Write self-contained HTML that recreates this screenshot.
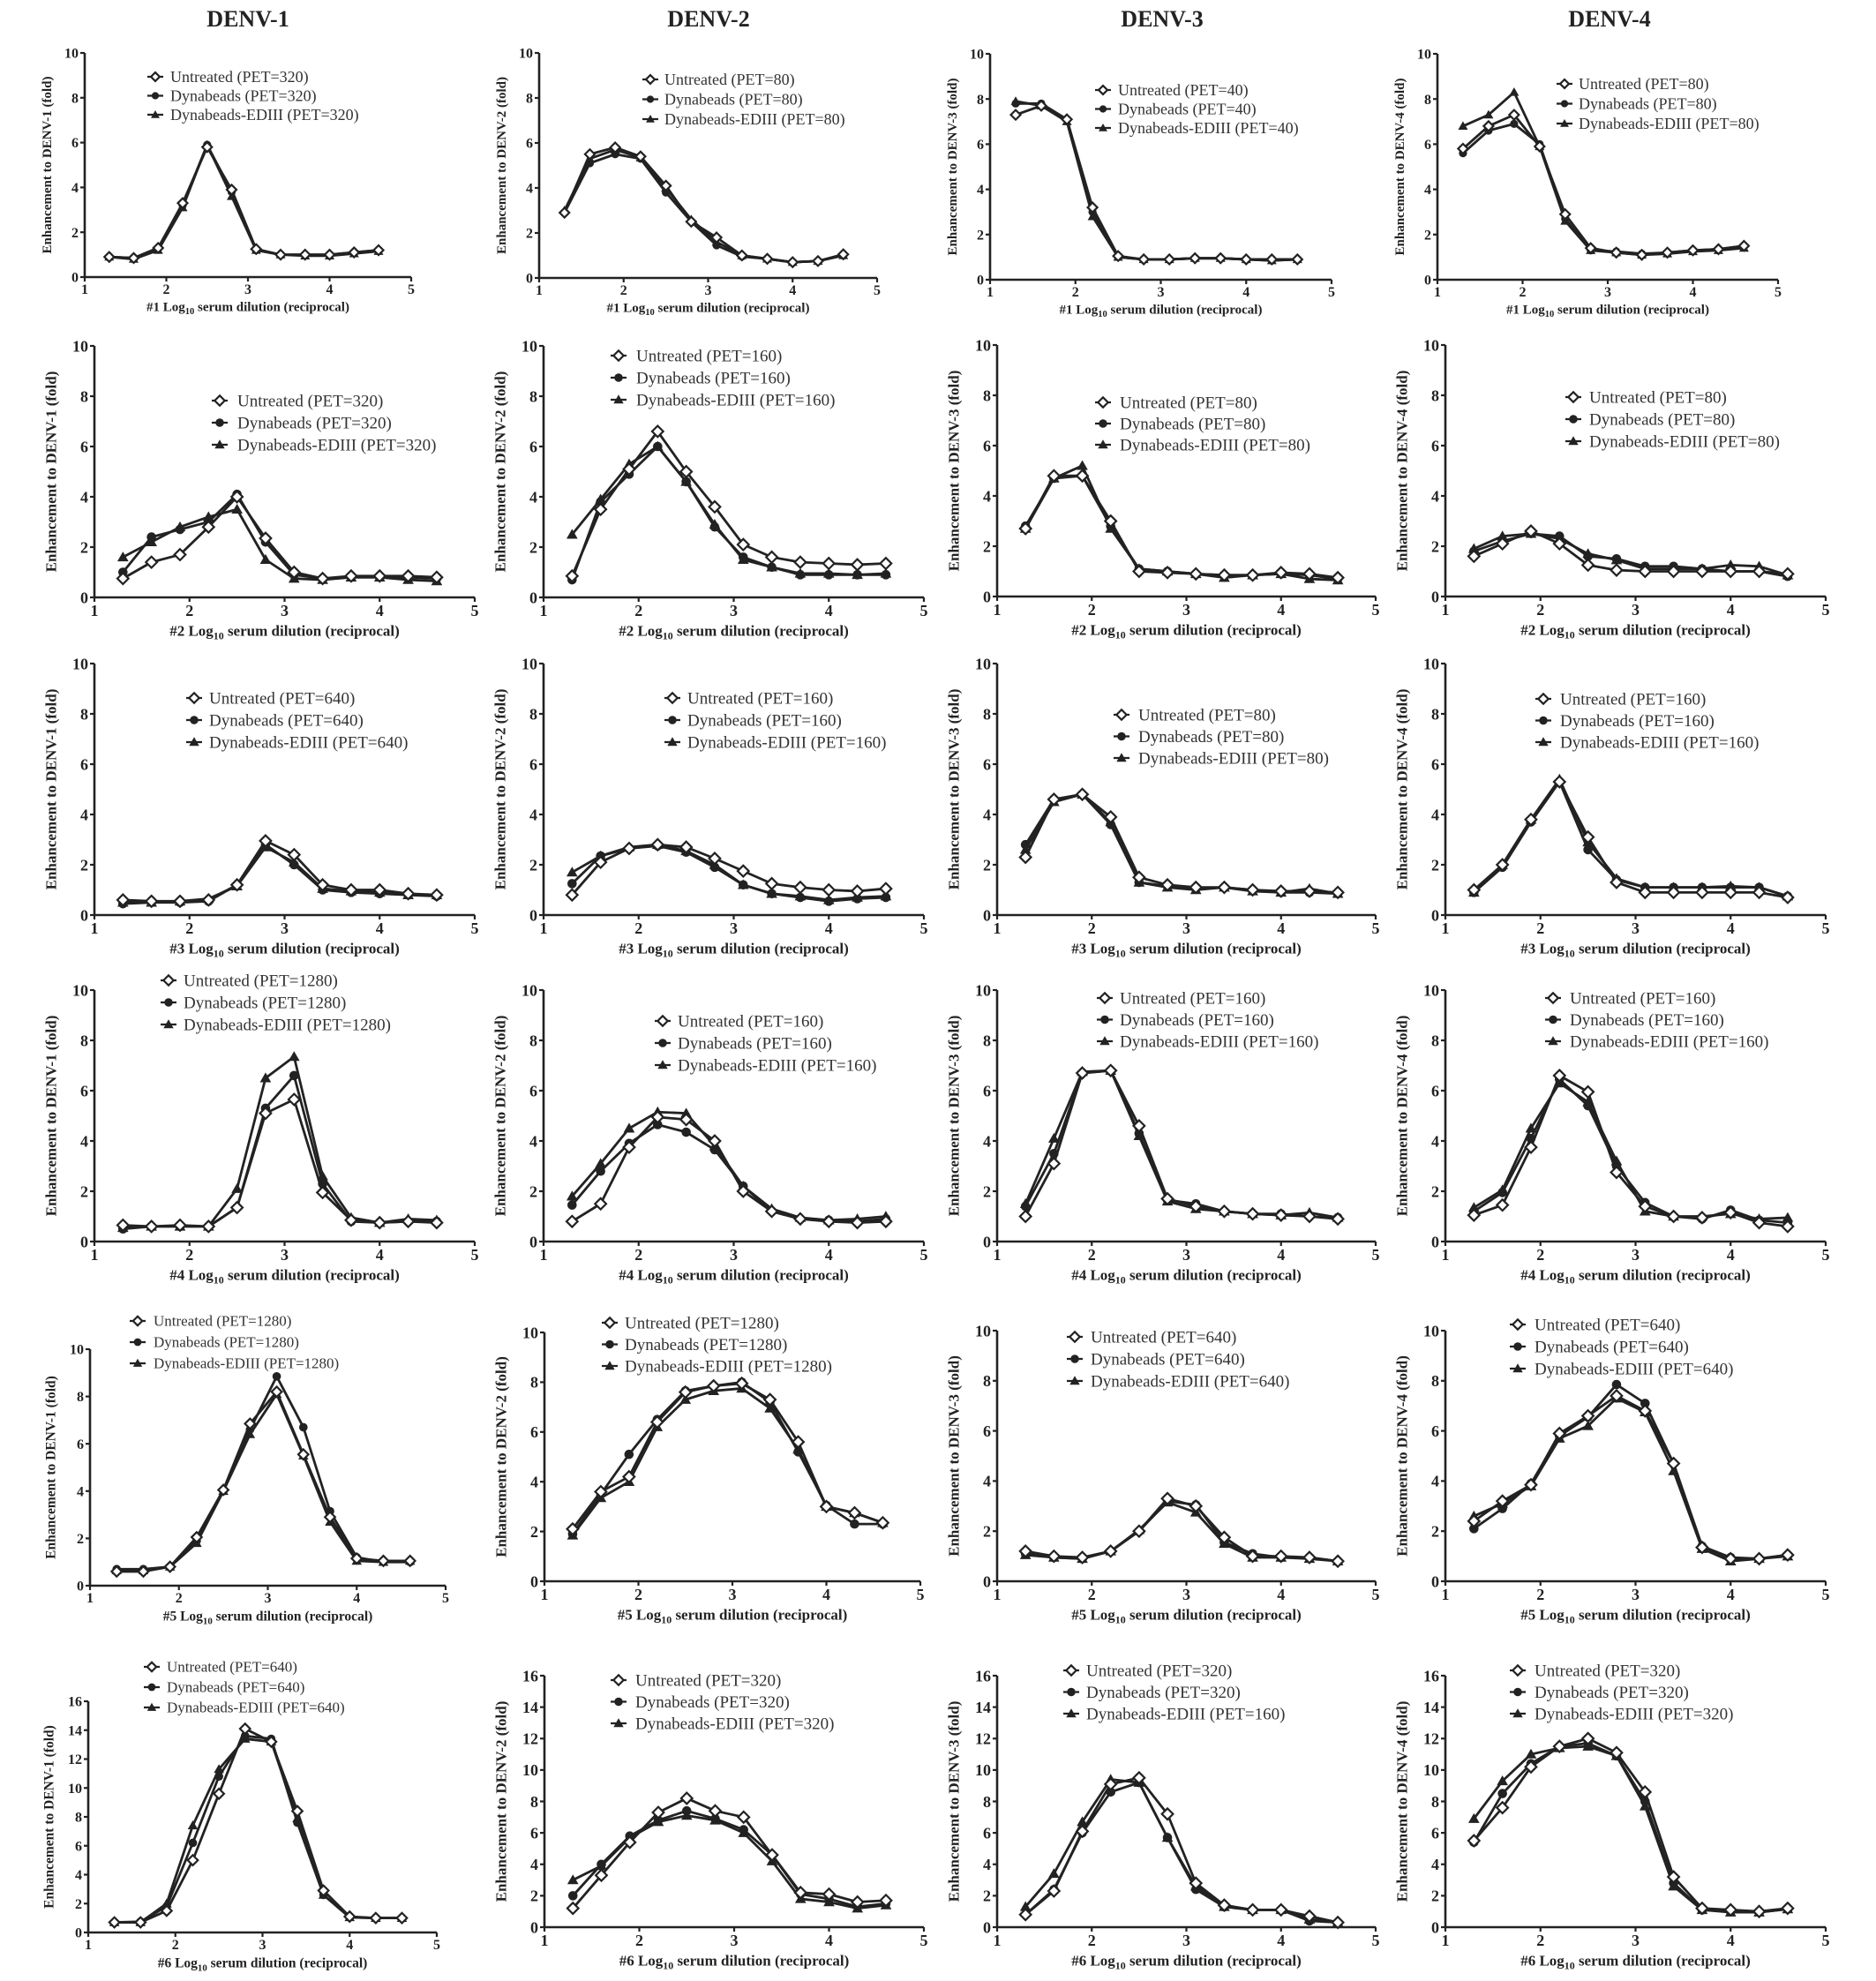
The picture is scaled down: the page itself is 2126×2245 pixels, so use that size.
<!DOCTYPE html>
<html><head><meta charset="utf-8"><style>
html,body{margin:0;padding:0;background:#fff;}
svg{display:block;font-family:"Liberation Serif",serif;}
</style></head><body>
<svg id="fig" xmlns="http://www.w3.org/2000/svg" width="2126" height="2245" viewBox="0 0 2126 2245">
<rect width="2126" height="2245" fill="#fff"/>
<g font-weight="bold" font-size="26" text-anchor="middle" fill="#222">
<text x="281" y="30">DENV-1</text>
<text x="803" y="30">DENV-2</text>
<text x="1317" y="30">DENV-3</text>
<text x="1824" y="30">DENV-4</text>
</g>
</svg>
<script>
const dilutions=[1.3,1.6,1.9,2.2,2.5,2.8,3.1,3.4,3.7,4.0,4.3,4.6];
const xTicks=[1,2,3,4,5];
const seriesNames=["Untreated","Dynabeads","Dynabeads-EDIII"];
const pet=[
 [[320,320,320],[80,80,80],[40,40,40],[80,80,80]],
 [[320,320,320],[160,160,160],[80,80,80],[80,80,80]],
 [[640,640,640],[160,160,160],[80,80,80],[160,160,160]],
 [[1280,1280,1280],[160,160,160],[160,160,160],[160,160,160]],
 [[1280,1280,1280],[1280,1280,1280],[640,640,640],[640,640,640]],
 [[640,640,640],[320,320,320],[320,320,160],[320,320,320]]
];
const yMaxByRow=[10,10,10,10,10,16];
const r1c1U=[.9,.85,1.3,3.3,5.8,3.9,1.25,1,1,1,1.1,1.2];
const r1c1D=[.9,.85,1.3,3.2,5.9,3.8,1.2,1,1,1,1.1,1.2];
const r1c1E=[.9,.8,1.2,3.1,5.9,3.6,1.2,1,.95,.95,1.05,1.15];
const r1c2U=[2.9,5.5,5.8,5.4,4.1,2.5,1.8,1.0,.85,.7,.75,1.05];
const r1c2D=[2.9,5.1,5.5,5.3,3.8,2.5,1.45,.95,.85,.7,.75,1.0];
const r1c2E=[3.0,5.3,5.7,5.35,4.0,2.6,1.6,1,.85,.7,.75,1.0];
const r1c3U=[7.3,7.7,7.1,3.2,1.05,.9,.9,.95,.95,.9,.9,.9];
const r1c3D=[7.8,7.8,7.1,3.0,1.0,.9,.9,.95,.95,.9,.85,.9];
const r1c3E=[7.9,7.7,7.0,2.8,1.0,.9,.9,.95,.95,.9,.85,.9];
const r1c4U=[5.8,6.8,7.3,5.9,2.9,1.4,1.2,1.1,1.2,1.3,1.35,1.5];
const r1c4D=[5.6,6.6,6.9,6.0,2.7,1.3,1.25,1.15,1.2,1.3,1.35,1.5];
const r1c4E=[6.8,7.3,8.3,5.9,2.6,1.3,1.2,1.1,1.15,1.25,1.3,1.4];
const r2c1U=[.75,1.4,1.7,2.8,4.0,2.35,1.0,.75,.85,.85,.85,.8];
const r2c1D=[1.0,2.4,2.7,3.0,4.1,2.2,.9,.75,.8,.8,.8,.75];
const r2c1E=[1.6,2.2,2.8,3.2,3.5,1.5,.75,.7,.8,.8,.7,.65];
const r2c2U=[.85,3.5,5.1,6.6,5.0,3.6,2.1,1.6,1.4,1.35,1.3,1.35];
const r2c2D=[.7,3.8,4.9,6.0,4.6,2.8,1.6,1.2,.9,.9,.9,.9];
const r2c2E=[2.5,3.9,5.3,6.0,4.6,2.9,1.5,1.2,.95,.95,.9,.95];
const r2c3U=[2.7,4.8,4.8,3.0,1.0,.95,.9,.85,.85,.95,.9,.75];
const r2c3D=[2.8,4.7,4.8,2.8,1.1,1.0,.9,.85,.85,.9,.85,.7];
const r2c3E=[2.7,4.7,5.2,2.7,1.1,1.0,.9,.75,.85,.9,.7,.65];
const r2c4U=[1.6,2.1,2.6,2.1,1.25,1.05,1.0,1.0,1.0,1.0,1.0,.9];
const r2c4D=[1.8,2.2,2.5,2.4,1.6,1.5,1.2,1.2,1.1,1.0,1.0,.8];
const r2c4E=[1.9,2.4,2.5,2.3,1.7,1.45,1.1,1.1,1.1,1.25,1.2,.85];
const r3c1U=[.6,.55,.55,.6,1.2,2.95,2.4,1.2,1.0,1.0,.85,.8];
const r3c1D=[.45,.5,.5,.55,1.2,2.8,2.0,1.0,.9,.85,.8,.75];
const r3c1E=[.5,.5,.55,.65,1.15,2.7,2.1,1.05,.95,.9,.8,.8];
const r3c2U=[.8,2.1,2.65,2.8,2.7,2.25,1.75,1.25,1.1,1.0,.95,1.05];
const r3c2D=[1.25,2.35,2.65,2.75,2.5,1.9,1.2,.85,.7,.55,.65,.7];
const r3c2E=[1.7,2.35,2.7,2.8,2.55,2.0,1.2,.85,.75,.6,.7,.75];
const r3c3U=[2.3,4.6,4.8,3.9,1.5,1.2,1.1,1.1,1.0,.95,.95,.9];
const r3c3D=[2.8,4.6,4.8,3.6,1.3,1.15,1.05,1.1,1.0,.9,.9,.85];
const r3c3E=[2.6,4.5,4.8,3.7,1.3,1.1,1.0,1.1,.95,.9,1.05,.85];
const r3c4U=[1.0,2.0,3.8,5.3,3.1,1.3,.9,.9,.9,.9,.9,.7];
const r3c4D=[.9,1.9,3.7,5.3,2.6,1.4,1.1,1.1,1.1,1.1,1.1,.75];
const r3c4E=[.9,2.0,3.8,5.4,2.9,1.45,1.1,1.1,1.1,1.15,1.1,.75];
const r4c1U=[.65,.6,.65,.6,1.35,5.1,5.65,1.95,.85,.75,.8,.75];
const r4c1D=[.5,.6,.6,.6,1.35,5.3,6.6,2.3,.8,.75,.8,.8];
const r4c1E=[.55,.6,.6,.6,2.1,6.5,7.35,2.6,.95,.75,.9,.85];
const r4c2U=[.8,1.5,3.75,4.95,4.85,4.0,2.0,1.2,.9,.8,.75,.8];
const r4c2D=[1.45,2.8,3.9,4.65,4.35,3.65,2.2,1.2,.9,.85,.8,.9];
const r4c2E=[1.8,3.1,4.5,5.15,5.1,3.8,2.2,1.3,.95,.85,.9,1.0];
const r4c3U=[1.0,3.1,6.7,6.8,4.6,1.7,1.4,1.2,1.1,1.05,1.0,.9];
const r4c3D=[1.4,3.5,6.7,6.8,4.3,1.65,1.5,1.2,1.1,1.1,1.0,.95];
const r4c3E=[1.5,4.1,6.75,6.8,4.2,1.6,1.3,1.2,1.1,1.05,1.15,.95];
const r4c4U=[1.05,1.45,3.75,6.6,5.95,2.75,1.4,1.0,.95,1.15,.75,.6];
const r4c4D=[1.2,1.95,4.1,6.45,5.4,3.0,1.55,1.0,.9,1.25,.85,.75];
const r4c4E=[1.35,2.05,4.5,6.3,5.55,3.2,1.2,1.0,1.0,1.1,.9,.95];
const r5c1U=[.6,.6,.8,2.05,4.05,6.85,8.2,5.55,2.9,1.15,1.05,1.05];
const r5c1D=[.7,.7,.8,1.9,4.0,6.6,8.85,6.7,3.15,1.2,1.0,1.0];
const r5c1E=[.65,.65,.8,1.8,4.0,6.4,8.1,5.5,2.7,1.05,1.0,1.05];
const r5c2U=[2.1,3.6,4.2,6.4,7.6,7.85,7.95,7.3,5.6,3.0,2.75,2.35];
const r5c2D=[1.9,3.5,5.1,6.5,7.65,7.85,8.0,7.2,5.2,3.05,2.3,2.3];
const r5c2E=[1.85,3.35,4.0,6.2,7.3,7.65,7.75,6.95,5.3,3.0,2.75,2.35];
const r5c3U=[1.2,1.0,.95,1.2,2.0,3.3,3.0,1.75,1.0,1.0,.95,.8];
const r5c3D=[1.1,.95,.9,1.2,2.0,3.2,3.05,1.55,1.1,.95,.95,.8];
const r5c3E=[1.05,.95,.9,1.2,2.05,3.15,2.75,1.5,.95,.95,.9,.8];
const r5c4U=[2.4,3.2,3.85,5.9,6.6,7.4,6.8,4.7,1.35,.9,.9,1.05];
const r5c4D=[2.1,2.9,3.9,5.8,6.55,7.85,7.1,4.7,1.4,.95,.9,1.05];
const r5c4E=[2.6,3.1,3.8,5.7,6.2,7.3,6.75,4.4,1.3,.8,.9,1.0];
const r6c1U=[.7,.7,1.5,5.0,9.6,14.1,13.2,8.4,2.9,1.1,1.0,1.0];
const r6c1D=[.7,.75,1.8,6.2,10.8,13.6,13.4,7.6,2.6,1.05,1.0,1.0];
const r6c1E=[.7,.7,2.0,7.4,11.3,13.4,13.2,7.9,2.6,1.05,1.0,1.0];
const r6c2U=[1.2,3.3,5.4,7.3,8.2,7.4,7.0,4.6,2.2,2.1,1.6,1.7];
const r6c2D=[2.0,4.0,5.8,6.8,7.4,6.9,6.2,4.6,2.1,1.8,1.3,1.5];
const r6c2E=[3.0,3.9,5.7,6.7,7.1,6.8,6.0,4.2,1.8,1.6,1.2,1.4];
const r6c3U=[.8,2.3,6.1,9.1,9.5,7.2,2.8,1.4,1.1,1.1,.7,.3];
const r6c3D=[.8,2.4,6.0,8.6,9.2,5.7,2.4,1.3,1.1,1.1,.4,.3];
const r6c3E=[1.3,3.4,6.7,9.4,9.2,5.7,2.6,1.3,1.1,1.1,.5,.3];
const r6c4U=[5.5,7.6,10.2,11.5,12.0,11.1,8.6,3.2,1.2,1.1,1.0,1.2];
const r6c4D=[5.4,8.5,10.4,11.5,11.7,10.9,8.0,2.8,1.1,1.0,.95,1.15];
const r6c4E=[6.9,9.3,11.0,11.4,11.5,10.9,7.7,2.6,1.1,.95,.95,1.15];

const data=[
 [[r1c1U,r1c1D,r1c1E],[r1c2U,r1c2D,r1c2E],[r1c3U,r1c3D,r1c3E],[r1c4U,r1c4D,r1c4E]],
 [[r2c1U,r2c1D,r2c1E],[r2c2U,r2c2D,r2c2E],[r2c3U,r2c3D,r2c3E],[r2c4U,r2c4D,r2c4E]],
 [[r3c1U,r3c1D,r3c1E],[r3c2U,r3c2D,r3c2E],[r3c3U,r3c3D,r3c3E],[r3c4U,r3c4D,r3c4E]],
 [[r4c1U,r4c1D,r4c1E],[r4c2U,r4c2D,r4c2E],[r4c3U,r4c3D,r4c3E],[r4c4U,r4c4D,r4c4E]],
 [[r5c1U,r5c1D,r5c1E],[r5c2U,r5c2D,r5c2E],[r5c3U,r5c3D,r5c3E],[r5c4U,r5c4D,r5c4E]],
 [[r6c1U,r6c1D,r6c1E],[r6c2U,r6c2D,r6c2E],[r6c3U,r6c3D,r6c3E],[r6c4U,r6c4D,r6c4E]]
];

const layout=[
 [[96,466,60,314,176,193,87,21.5,0],[611,994,60,315,737,753,90,22.5,0],[1122,1509,61,317,1250,1267,102,21.5,0],[1629,2015,61,317,1773,1789,95,22.5,0]],
 [[107,538,392,677,249,269,454,25,2],[616,1047,392,677,701,721,403,25,2],[1130,1559,391,676,1250,1269,456,24,2],[1638,2069,391,676,1783,1801,450,25,2]],
 [[107,538,752,1037,220,237,791,25,2],[616,1047,752,1037,762,779,791,25,2],[1130,1559,752,1037,1271,1290,810,24.5,2],[1638,2069,752,1037,1749,1768,792,24.5,2]],
 [[107,538,1122,1407,191,208,1111,25,2],[616,1047,1122,1407,751,768,1157,25,2],[1130,1559,1122,1407,1252,1269,1131,24.5,2],[1638,2069,1122,1407,1760,1779,1131,24.5,2]],
 [[102,505,1529,1797,156,174,1497,24,1],[617,1043,1510,1792,691,708,1499,24.5,2],[1130,1559,1508,1792,1218,1236,1515,25,2],[1638,2069,1508,1792,1720,1739,1501,25,2]],
 [[100,495,1928,2190,172,189,1889,23,1],[617,1047,1899,2184,701,720,1904,24.5,2],[1130,1559,1899,2184,1214,1231,1893,24.5,2],[1638,2069,1899,2184,1720,1739,1893,24.5,2]]
];
const sizes=[{tick:16,lab:15,leg:18,m:1},{tick:16,lab:15.5,leg:17,m:1.05},{tick:18,lab:17,leg:19,m:1.15}];

const NS="http://www.w3.org/2000/svg";
const svg=document.getElementById('fig');
function mk(tag,attrs,parent){const e=document.createElementNS(NS,tag);for(const k in attrs)e.setAttribute(k,attrs[k]);(parent||svg).appendChild(e);return e;}
function marker(g,type,x,y,m){
 let e;
 if(type===0){const s=5.5*m;e=mk('polygon',{points:`${x},${y-s} ${x+s},${y} ${x},${y+s} ${x-s},${y}`,fill:'#fff',stroke:'#222','stroke-width':2.2},g);}
 else if(type===1){e=mk('circle',{cx:x,cy:y,r:4.6*m,fill:'#222'},g);}
 else {const s=5.5*m;e=mk('polygon',{points:`${x},${y-s} ${x+s},${y+s*0.75} ${x-s},${y+s*0.75}`,fill:'#222'},g);}
 return e;
}
for(let r=0;r<6;r++){for(let c=0;c<4;c++){
 const L=layout[r][c],S=sizes[L[8]],ymax=yMaxByRow[r];
 const [xl,xr,yt,yb]=L;
 const xs=v=>xl+(v-1)/(4)*(xr-xl);
 const ys=v=>yb-v/ymax*(yb-yt);
 const g=mk('g',{});
 
 
 const ax=mk('path',{d:`M${xl},${yt}V${yb}H${xr}`,fill:'none',stroke:'#222','stroke-width':2.6},g);
 
 
 for(let v=0;v<=ymax;v+=2){
  const y=ys(v);
  mk('line',{x1:xl-5,y1:y,x2:xl,y2:y,stroke:'#222','stroke-width':2.2},g);
  const t=mk('text',{x:xl-7,y:y+S.tick*0.35,'font-size':S.tick,'font-weight':'bold','text-anchor':'end',fill:'#222'},g);
  t.textContent=v;
  
  
 }
 xTicks.forEach(v=>{
  const x=xs(v);
  mk('line',{x1:x,y1:yb,x2:x,y2:yb+5,stroke:'#222','stroke-width':2.2},g);
  const t=mk('text',{x:x,y:yb+S.tick+3,'font-size':S.tick,'font-weight':'bold','text-anchor':'middle',fill:'#222'},g);
  t.textContent=v;
  
  
 });
 const xt=mk('text',{x:(xl+xr)/2,y:yb+S.lab*2.55,'font-size':S.lab,'font-weight':'bold','text-anchor':'middle',fill:'#222'},g);
 
 
 xt.appendChild(document.createTextNode('#'+(r+1)+' Log'));
 const sub=mk('tspan',{'font-size':S.lab*0.7,dy:S.lab*0.25},xt);sub.textContent='10';
 const rest=mk('tspan',{dy:-S.lab*0.25},xt);rest.textContent=' serum dilution (reciprocal)';
 const yx=xl-S.lab*2.55, ym=(yt+yb)/2;
 const yt2=mk('text',{x:yx,y:ym,'font-size':S.lab,'font-weight':'bold','text-anchor':'middle',fill:'#222',transform:`rotate(-90 ${yx} ${ym})`},g);
 yt2.textContent='Enhancement to DENV-'+(c+1)+' (fold)';
 
 
 for(let s=0;s<3;s++){
  const vals=data[r][c][s];
  const pts=vals.map((v,i)=>xs(dilutions[i])+','+ys(v)).join(' ');
  const pl=mk('polyline',{points:pts,fill:'none',stroke:'#222','stroke-width':2.8,'stroke-linejoin':'round'},g);
  
  
 }
 for(let s=2;s>=0;s--){
  const vals=data[r][c][s];
  vals.forEach((v,i)=>{
   const mm=marker(g,s,xs(dilutions[i]),ys(v),S.m);
   
   
  });
 }
 for(let s=0;s<3;s++){
  const y=L[6]+s*L[7];
  const lg=mk('g',{},g);
  
  
  mk('line',{x1:L[4]-9,y1:y,x2:L[4]+9,y2:y,stroke:'#222','stroke-width':2.2},lg);
  marker(lg,s,L[4],y,S.m*0.9);
  const t=mk('text',{x:L[5],y:y+S.leg*0.33,'font-size':S.leg,fill:'#333'},lg);
  t.textContent=seriesNames[s]+' (PET='+pet[r][c][s]+')';
 }
}}
</script>
</body></html>
